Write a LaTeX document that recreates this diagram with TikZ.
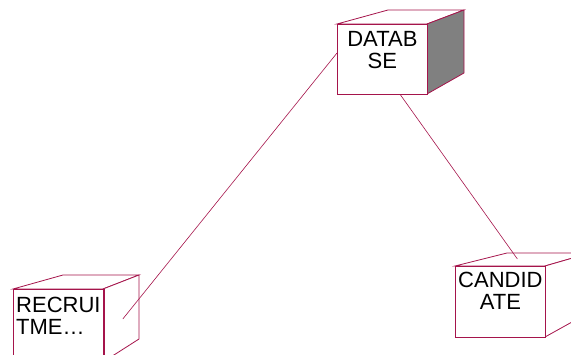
\documentclass[tikz,border=0pt]{standalone}
\usepackage{fontspec}
\setmainfont{Liberation Sans}
\usetikzlibrary{calc}
\definecolor{rim}{RGB}{165,20,75}
\definecolor{shade}{RGB}{128,128,128}
\tikzstyle{front} = [draw=rim, fill=white, rectangle, line width=0.8pt, inner sep=0pt, anchor=north west]
\tikzstyle{side} = [draw=rim, line width=0.8pt, line join=miter]
\tikzstyle{caption} = [inner sep=0pt, font={\fontsize{22pt}{22pt}\selectfont}]
\tikzstyle{wire} = [draw=rim, line width=0.6pt]

\begin{document}
\begin{tikzpicture}[x=1pt, y=-1pt]
    \useasboundingbox (0,0) rectangle (571,355);
    % database cube
    \draw [side, fill=white] (337,24) -- (388,10) -- (464,10) -- (427,24) -- cycle;
    \draw [side, fill=shade] (427,24) -- (464,10) -- (464,73) -- (427,94) -- cycle;
    \node [front, minimum width=90pt, minimum height=70pt] (db) at (337,24) {};
    \node [caption, align=center, anchor=north] (dbtext) at ($(db.north)+(0,7)$) {DATAB\\SE};
    % recruitment cube
    \draw [side, fill=white] (13,289) -- (63,275) -- (139,275) -- (103,289) -- cycle;
    \draw [side, fill=white] (103,289) -- (139,275) -- (139,339) -- (103,362) -- cycle;
    \node [front, minimum width=90pt, minimum height=80pt] (recr) at (13,289) {};
    \draw [rim, line width=1.6pt] (recr.north east) -- (recr.south east);
    \node [caption, align=left, anchor=north west] (recrtext) at ($(recr.north west)+(3,8)$) {RECRUI\\TME\dots};
    % candidate cube
    \draw [side, fill=white] (455,266) -- (507,253) -- (590,253) -- (545,266) -- cycle;
    \draw [side, fill=white] (545,266) -- (590,253) -- (590,312) -- (545,337) -- cycle;
    \node [front, minimum width=90pt, minimum height=71pt] (cand) at (455,266) {};
    \node [caption, align=center, anchor=north] (candtext) at ($(cand.north)+(0,6)$) {CANDID\\ATE};
    % links
    \coordinate (recrend) at ($(recr.north east)+(19,30)$);
    \coordinate (candend) at ($(cand.north)+(17,-7)$);
    \draw [wire] ($(db.north west)+(0,29)$) -- (recrend);
    \draw [wire] ($(db.south)+(18,0)$) -- (candend);
\end{tikzpicture}
\end{document}
